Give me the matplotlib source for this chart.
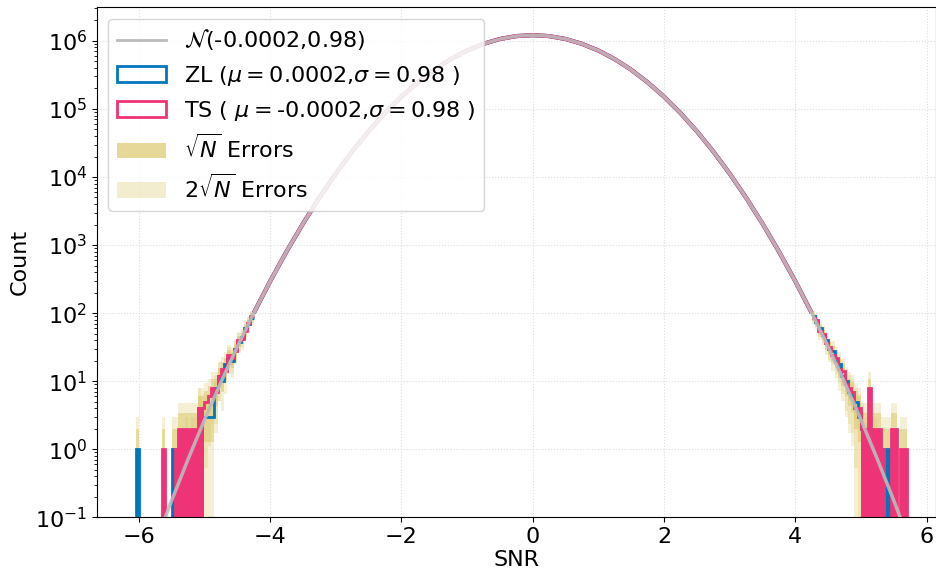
import matplotlib
matplotlib.use("Agg")
import matplotlib.pyplot as plt
import numpy as np
from matplotlib.lines import Line2D
from matplotlib.patches import Patch

BLUE = "#0077BB"
PINK = "#EE3377"
GREY = "#BBBBBB"
SAND = "#DDCC77"
FLOOR = 1e-3

# grey gaussian curve, read every 0.25 in SNR (from -6 to 6)
fit_x = np.round(np.arange(-6.0, 6.001, 0.25), 2)
fit_counts = [0.0088, 0.0406, 0.176, 0.711, 2.70, 9.6, 32.0, 100, 293, 803, 2060, 4960,
              11200, 23700, 46900, 87000, 151000, 246000, 376000, 538000, 721000, 905000,
              1065000, 1175000, 1213000, 1175000, 1065000, 905000, 721000, 538000, 376000,
              246000, 151000, 87000, 46900, 23700, 11200, 4960, 2060, 803, 293, 100, 32.0,
              9.6, 2.70, 0.711, 0.176, 0.0406, 0.0088]

# body of the two histograms (ZL and TS overlap to the pixel here), -4.25 to 4.25
core_x = np.round(np.arange(-4.25, 4.251, 0.25), 2)
core_counts = [100, 293, 803, 2060, 4960, 11200, 23700, 46900, 87000, 151000, 246000,
               376000, 538000, 721000, 905000, 1065000, 1175000, 1213000, 1175000, 1065000,
               905000, 721000, 538000, 376000, 246000, 151000, 87000, 46900, 23700, 11200,
               4960, 2060, 803, 293, 100]

# tails, 0.05 wide bins
left_edges = np.round(np.arange(-6.10, -4.2499, 0.05), 2)
right_edges = np.round(np.arange(4.25, 5.7501, 0.05), 2)

zl_left = [0, 1, 0, 0, 0, 0, 0, 0, 0, 0, 0, 0, 1, 0, 0, 0, 1, 0, 1,
           1, 4, 3, 3, 3, 3, 8, 12, 10, 18, 22, 20, 30, 38, 45, 60, 70, 85]
ts_left = [0, 0, 0, 0, 0, 0, 0, 0, 0, 1, 0, 0, 0, 1, 2, 2, 2, 2, 2,
           2, 4, 4, 5, 6, 8, 7, 12, 15, 14, 24, 22, 28, 40, 42, 55, 72, 90]
zl_right = [90, 75, 60, 48, 40, 30, 28, 20, 18, 12, 10, 7, 6, 5, 3,
            2, 1, 0, 0, 1, 0, 0, 1, 1, 0, 0, 0, 0, 0, 0]
ts_right = [85, 80, 55, 50, 36, 32, 24, 22, 15, 14, 9, 8, 7, 4, 4,
            2, 2, 8, 2, 2, 2, 1, 0, 0, 2, 2, 0, 1, 1, 0]

SOLID_BEYOND = 5.0
ERR_ALPHA = {1: 0.6, 2: 0.3}


def draw_errors(ax, edges, counts):
    counts = np.asarray(counts, float)
    err = np.sqrt(counts)
    for k in (2, 1):
        hi = np.maximum(counts + k * err, FLOOR)
        lo = np.maximum(counts - k * err, FLOOR)
        ax.stairs(hi, edges, baseline=lo, fill=True, color=SAND,
                  alpha=ERR_ALPHA[k], lw=0, zorder=1)


def draw_tail(ax, edges, counts, color):
    counts = np.asarray(counts, float)
    centers = 0.5 * (edges[:-1] + edges[1:])
    solid = np.where(np.abs(centers) > SOLID_BEYOND, counts, 0)
    ax.stairs(np.maximum(solid, FLOOR), edges, baseline=FLOOR, fill=True,
              color=color, lw=0, zorder=2)
    ax.stairs(np.maximum(counts, FLOOR), edges, baseline=None, color=color, lw=2, zorder=2)


fig = plt.figure(figsize=(9.37, 5.71), dpi=100)
ax = fig.add_axes([0.1035, 0.094, 0.8955, 0.893])
ax.set_yscale("log")

for edges, counts in ((left_edges, zl_left), (left_edges, ts_left),
                      (right_edges, zl_right), (right_edges, ts_right)):
    draw_errors(ax, edges, counts)

for color, left, right in ((BLUE, zl_left, zl_right), (PINK, ts_left, ts_right)):
    ax.plot(core_x, core_counts, color=color, lw=3, zorder=2, solid_capstyle="butt")
    draw_tail(ax, left_edges, left, color)
    draw_tail(ax, right_edges, right, color)

ax.plot(fit_x, fit_counts, color=GREY, lw=2.5, alpha=0.9, zorder=3)

ax.set_xlim(-6.637, 6.143)
ax.set_ylim(0.1, 3.1e6)
ax.set_xticks([-6, -4, -2, 0, 2, 4, 6])
ax.tick_params(labelsize=16)
ax.set_xlabel("SNR", fontsize=16, labelpad=2)
ax.set_ylabel("Count", fontsize=16)
ax.set_axisbelow(True)
ax.grid(True, which="major", ls=":", color="#dddddd", lw=0.8)

handles = [
    Line2D([], [], color=GREY, lw=2),
    Patch(facecolor="none", edgecolor=BLUE, lw=2),
    Patch(facecolor="none", edgecolor=PINK, lw=2),
    Patch(facecolor=SAND, alpha=0.75, lw=0),
    Patch(facecolor=SAND, alpha=0.35, lw=0),
]
labels = [
    r"$\mathcal{N}$(-0.0002,0.98)",
    r"ZL ($\mu=$0.0002,$\sigma=$0.98 )",
    r"TS ( $\mu=$-0.0002,$\sigma=$0.98 )",
    r"$\sqrt{N}$ Errors",
    r"$2\sqrt{N}$ Errors",
]
ax.legend(handles, labels, loc="upper left", fontsize=16, handlelength=2.2)

fig.savefig("out.png", dpi=100)
